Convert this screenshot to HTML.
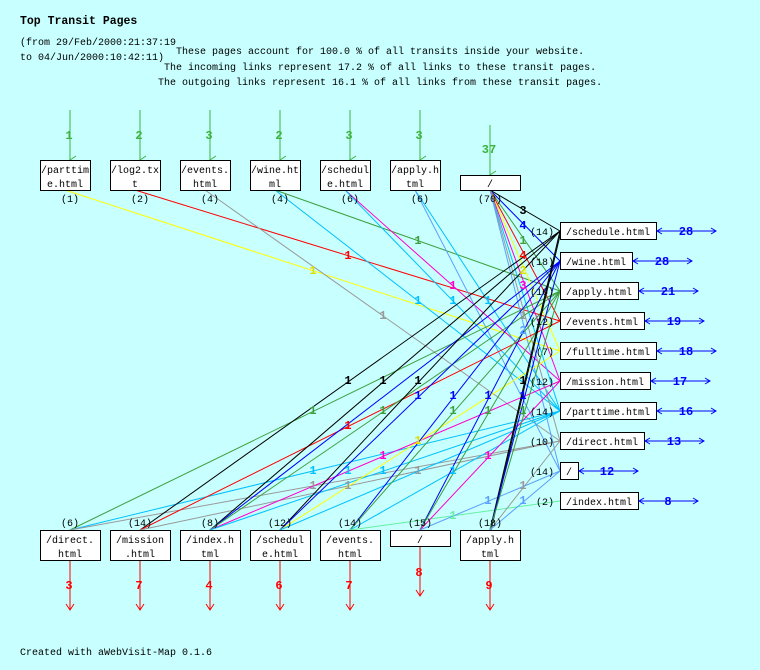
<!DOCTYPE html>
<html><head><meta charset="utf-8"><style>
html,body{margin:0;padding:0;background:#c8ffff;}
svg{display:block;font-family:"Liberation Mono",monospace;}
.t{font-size:10px;fill:#000}
.l{font-size:12px;font-weight:bold}
</style></head><body>
<svg width="760" height="670" viewBox="0 0 760 670" xmlns="http://www.w3.org/2000/svg">
<defs>
<marker id="ag" markerWidth="10" markerHeight="8" refX="5" refY="7" orient="auto" markerUnits="userSpaceOnUse"><path d="M1,1 L5,7 L9,1" fill="none" stroke="#3cb43c"/></marker>
</defs>
<rect width="760" height="670" fill="#c8ffff"/>
<text x="20" y="24" style="font-size:11.5px;font-weight:bold">Top Transit Pages</text>
<text class="t" x="20" y="45">(from 29/Feb/2000:21:37:19</text>
<text class="t" x="20" y="60">to 04/Jun/2000:10:42:11)</text>
<text class="t" x="176" y="54">These pages account for 100.0 % of all transits inside your website.</text>
<text class="t" x="164" y="70">The incoming links represent 17.2 % of all links to these transit pages.</text>
<text class="t" x="158" y="85">The outgoing links represent 16.1 % of all links from these transit pages.</text>

<g stroke-width="1" fill="none">
<line x1="65" y1="190" x2="560" y2="351" stroke="#ffff00"/>
<line x1="135" y1="190" x2="560" y2="321" stroke="#ff0000"/>
<line x1="205" y1="190" x2="560" y2="441" stroke="#999"/>
<line x1="275" y1="190" x2="560" y2="291" stroke="#3ca03c"/>
<line x1="275" y1="190" x2="560" y2="411" stroke="#00c0ff"/>
<line x1="345" y1="190" x2="560" y2="381" stroke="#ff00cc"/>
<line x1="345" y1="190" x2="560" y2="411" stroke="#00c0ff"/>
<line x1="415" y1="190" x2="560" y2="411" stroke="#00c0ff"/>
<line x1="415" y1="190" x2="560" y2="471" stroke="#5aa0ff"/>
<line x1="490" y1="190" x2="560" y2="231" stroke="#000"/>
<line x1="490" y1="190" x2="560" y2="261" stroke="#0000ff"/>
<line x1="490" y1="190" x2="560" y2="291" stroke="#3ca03c"/>
<line x1="490" y1="190" x2="560" y2="321" stroke="#ff0000"/>
<line x1="490" y1="190" x2="560" y2="351" stroke="#ffff00"/>
<line x1="490" y1="190" x2="560" y2="381" stroke="#ff00cc"/>
<line x1="490" y1="190" x2="560" y2="411" stroke="#00c0ff"/>
<line x1="490" y1="190" x2="560" y2="441" stroke="#999"/>
<line x1="490" y1="190" x2="560" y2="471" stroke="#5aa0ff"/>

<line x1="70" y1="530" x2="560" y2="291" stroke="#3ca03c"/>
<line x1="70" y1="530" x2="560" y2="411" stroke="#00c0ff"/>
<line x1="70" y1="530" x2="560" y2="441" stroke="#999"/>
<line x1="140" y1="530" x2="560" y2="231" stroke="#000"/>
<line x1="140" y1="530" x2="560" y2="321" stroke="#ff0000"/>
<line x1="140" y1="530" x2="560" y2="441" stroke="#999"/>
<line x1="210" y1="530" x2="560" y2="231" stroke="#000"/>
<line x1="210" y1="530" x2="560" y2="261" stroke="#0000ff"/>
<line x1="210" y1="530" x2="560" y2="291" stroke="#3ca03c"/>
<line x1="210" y1="530" x2="560" y2="381" stroke="#ff00cc"/>
<line x1="210" y1="530" x2="560" y2="411" stroke="#00c0ff"/>
<line x1="280" y1="530" x2="560" y2="231" stroke="#000"/>
<line x1="280" y1="530" x2="560" y2="261" stroke="#0000ff"/>
<line x1="280" y1="530" x2="560" y2="351" stroke="#ffff00"/>
<line x1="280" y1="530" x2="560" y2="411" stroke="#00c0ff"/>
<line x1="350" y1="530" x2="560" y2="261" stroke="#0000ff"/>
<line x1="350" y1="530" x2="560" y2="291" stroke="#3ca03c"/>
<line x1="350" y1="530" x2="560" y2="411" stroke="#00c0ff"/>
<line x1="350" y1="530" x2="560" y2="501" stroke="#64f0a0"/>
<line x1="420" y1="530" x2="560" y2="261" stroke="#0000ff"/>
<line x1="420" y1="530" x2="560" y2="291" stroke="#3ca03c"/>
<line x1="420" y1="530" x2="560" y2="381" stroke="#ff00cc"/>
<line x1="420" y1="530" x2="560" y2="471" stroke="#5aa0ff"/>
<line x1="490" y1="530" x2="560" y2="231" stroke="#000"/>
<line x1="491" y1="530" x2="561" y2="231" stroke="#000"/>
<line x1="490" y1="530" x2="560" y2="261" stroke="#0000ff"/>
<line x1="490" y1="530" x2="560" y2="291" stroke="#3ca03c"/>
<line x1="490" y1="530" x2="560" y2="441" stroke="#999"/>
<line x1="490" y1="530" x2="560" y2="471" stroke="#5aa0ff"/>
</g>

<g class="l" text-anchor="middle">
<text x="313" y="274" fill="#dddd00">1</text>
<text x="348" y="259" fill="#ff0000">1</text>
<text x="383" y="319" fill="#999">1</text>
<text x="418" y="244" fill="#3ca03c">1</text>
<text x="418" y="304" fill="#00c0ff">1</text>
<text x="453" y="289" fill="#ff00cc">1</text>
<text x="453" y="304" fill="#00c0ff">1</text>
<text x="488" y="304" fill="#00c0ff">1</text>
<text x="523" y="214" fill="#000">3</text>
<text x="523" y="229" fill="#0000ff">4</text>
<text x="523" y="244" fill="#3ca03c">1</text>
<text x="523" y="259" fill="#ff0000">4</text>
<text x="523" y="274" fill="#dddd00">2</text>
<text x="523" y="289" fill="#ff00cc">3</text>
<text x="523" y="319" fill="#999">1</text>
<text x="523" y="334" fill="#5aa0ff">2</text>
<text x="313" y="414" fill="#3ca03c">1</text>
<text x="313" y="474" fill="#00c0ff">1</text>
<text x="313" y="489" fill="#999">1</text>
<text x="348" y="384" fill="#000">1</text>
<text x="348" y="429" fill="#ff0000">1</text>
<text x="348" y="474" fill="#00c0ff">1</text>
<text x="348" y="489" fill="#999">1</text>
<text x="383" y="384" fill="#000">1</text>
<text x="383" y="414" fill="#3ca03c">1</text>
<text x="383" y="459" fill="#ff00cc">1</text>
<text x="383" y="474" fill="#00c0ff">1</text>
<text x="418" y="384" fill="#000">1</text>
<text x="418" y="399" fill="#0000ff">1</text>
<text x="418" y="444" fill="#dddd00">1</text>
<text x="418" y="474" fill="#999">1</text>
<text x="453" y="399" fill="#0000ff">1</text>
<text x="453" y="414" fill="#3ca03c">1</text>
<text x="453" y="474" fill="#00c0ff">1</text>
<text x="453" y="519" fill="#64f0a0">1</text>
<text x="488" y="399" fill="#0000ff">1</text>
<text x="488" y="414" fill="#3ca03c">1</text>
<text x="488" y="459" fill="#ff00cc">1</text>
<text x="488" y="504" fill="#5aa0ff">1</text>
<text x="523" y="384" fill="#000">1</text>
<text x="523" y="399" fill="#0000ff">1</text>
<text x="523" y="414" fill="#3ca03c">1</text>
<text x="523" y="489" fill="#999">1</text>
<text x="523" y="504" fill="#5aa0ff">1</text>
</g>

<g stroke="#3cb43c" fill="none">
<line x1="70" y1="110" x2="70" y2="160" marker-end="url(#ag)"/>
<line x1="140" y1="110" x2="140" y2="160" marker-end="url(#ag)"/>
<line x1="210" y1="110" x2="210" y2="160" marker-end="url(#ag)"/>
<line x1="280" y1="110" x2="280" y2="160" marker-end="url(#ag)"/>
<line x1="350" y1="110" x2="350" y2="160" marker-end="url(#ag)"/>
<line x1="420" y1="110" x2="420" y2="160" marker-end="url(#ag)"/>
<line x1="490" y1="125" x2="490" y2="175" marker-end="url(#ag)"/>
</g>
<g class="l" fill="#3cb43c" text-anchor="middle">
<text x="69" y="139">1</text><text x="139" y="139">2</text><text x="209" y="139">3</text>
<text x="279" y="139">2</text><text x="349" y="139">3</text><text x="419" y="139">3</text>
<text x="489" y="153">37</text>
</g>

<g fill="#fff" stroke="#000">
<rect x="40.5" y="160.5" width="50" height="30"/>
<rect x="110.5" y="160.5" width="50" height="30"/>
<rect x="180.5" y="160.5" width="50" height="30"/>
<rect x="250.5" y="160.5" width="50" height="30"/>
<rect x="320.5" y="160.5" width="50" height="30"/>
<rect x="390.5" y="160.5" width="50" height="30"/>
<rect x="460.5" y="175.5" width="60" height="15"/>
</g>
<g class="t" text-anchor="middle">
<text x="65" y="173">/parttim</text><text x="65" y="187">e.html</text>
<text x="135" y="173">/log2.tx</text><text x="135" y="187">t</text>
<text x="205" y="173">/events.</text><text x="205" y="187">html</text>
<text x="275" y="173">/wine.ht</text><text x="275" y="187">ml</text>
<text x="345" y="173">/schedul</text><text x="345" y="187">e.html</text>
<text x="415" y="173">/apply.h</text><text x="415" y="187">tml</text>
<text x="490" y="187">/</text>
<text x="70" y="202">(1)</text><text x="140" y="202">(2)</text><text x="210" y="202">(4)</text>
<text x="280" y="202">(4)</text><text x="350" y="202">(6)</text><text x="420" y="202">(6)</text>
<text x="490" y="202">(70)</text>
</g>

<g fill="#fff" stroke="#000">
<rect x="560.5" y="222.5" width="96" height="17"/>
<rect x="560.5" y="252.5" width="72" height="17"/>
<rect x="560.5" y="282.5" width="78" height="17"/>
<rect x="560.5" y="312.5" width="84" height="17"/>
<rect x="560.5" y="342.5" width="96" height="17"/>
<rect x="560.5" y="372.5" width="90" height="17"/>
<rect x="560.5" y="402.5" width="96" height="17"/>
<rect x="560.5" y="432.5" width="84" height="17"/>
<rect x="560.5" y="462.5" width="18" height="17"/>
<rect x="560.5" y="492.5" width="78" height="17"/>
</g>
<g class="t">
<text x="566" y="235">/schedule.html</text>
<text x="566" y="265">/wine.html</text>
<text x="566" y="295">/apply.html</text>
<text x="566" y="325">/events.html</text>
<text x="566" y="355">/fulltime.html</text>
<text x="566" y="385">/mission.html</text>
<text x="566" y="415">/parttime.html</text>
<text x="566" y="445">/direct.html</text>
<text x="566" y="475">/</text>
<text x="566" y="505">/index.html</text>
</g>
<g class="t" text-anchor="end">
<text x="554" y="235">(14)</text><text x="554" y="265">(18)</text><text x="554" y="295">(16)</text>
<text x="554" y="325">(12)</text><text x="554" y="355">(7)</text><text x="554" y="385">(12)</text>
<text x="554" y="415">(14)</text><text x="554" y="445">(10)</text><text x="554" y="475">(14)</text>
<text x="554" y="505">(2)</text>
</g>
<g stroke="#0000ff" fill="none">
<path d="M657,231 H716 M662,228 L657,231 L662,234 M711,228 L716,231 L711,234"/>
<path d="M633,261 H692 M638,258 L633,261 L638,264 M687,258 L692,261 L687,264"/>
<path d="M639,291 H698 M644,288 L639,291 L644,294 M693,288 L698,291 L693,294"/>
<path d="M645,321 H704 M650,318 L645,321 L650,324 M699,318 L704,321 L699,324"/>
<path d="M657,351 H716 M662,348 L657,351 L662,354 M711,348 L716,351 L711,354"/>
<path d="M651,381 H710 M656,378 L651,381 L656,384 M705,378 L710,381 L705,384"/>
<path d="M657,411 H716 M662,408 L657,411 L662,414 M711,408 L716,411 L711,414"/>
<path d="M645,441 H704 M650,438 L645,441 L650,444 M699,438 L704,441 L699,444"/>
<path d="M579,471 H638 M584,468 L579,471 L584,474 M633,468 L638,471 L633,474"/>
<path d="M639,501 H698 M644,498 L639,501 L644,504 M693,498 L698,501 L693,504"/>
</g>
<g class="l" fill="#0000ff" text-anchor="middle">
<text x="686" y="235">28</text><text x="662" y="265">28</text><text x="668" y="295">21</text>
<text x="674" y="325">19</text><text x="686" y="355">18</text><text x="680" y="385">17</text>
<text x="686" y="415">16</text><text x="674" y="445">13</text><text x="607" y="475">12</text>
<text x="668" y="505">8</text>
</g>

<g fill="#fff" stroke="#000">
<rect x="40.5" y="530.5" width="60" height="30"/>
<rect x="110.5" y="530.5" width="60" height="30"/>
<rect x="180.5" y="530.5" width="60" height="30"/>
<rect x="250.5" y="530.5" width="60" height="30"/>
<rect x="320.5" y="530.5" width="60" height="30"/>
<rect x="390.5" y="530.5" width="60" height="16"/>
<rect x="460.5" y="530.5" width="60" height="30"/>
</g>
<g class="t" text-anchor="middle">
<text x="70" y="543">/direct.</text><text x="70" y="557">html</text>
<text x="140" y="543">/mission</text><text x="140" y="557">.html</text>
<text x="210" y="543">/index.h</text><text x="210" y="557">tml</text>
<text x="280" y="543">/schedul</text><text x="280" y="557">e.html</text>
<text x="350" y="543">/events.</text><text x="350" y="557">html</text>
<text x="420" y="543">/</text>
<text x="490" y="543">/apply.h</text><text x="490" y="557">tml</text>
<text x="70" y="526">(6)</text><text x="140" y="526">(14)</text><text x="210" y="526">(8)</text>
<text x="280" y="526">(12)</text><text x="350" y="526">(14)</text><text x="420" y="526">(15)</text>
<text x="490" y="526">(18)</text>
</g>
<g stroke="#ff0000" fill="none">
<path d="M70,561 V610 M66,604 L70,610 L74,604"/>
<path d="M140,561 V610 M136,604 L140,610 L144,604"/>
<path d="M210,561 V610 M206,604 L210,610 L214,604"/>
<path d="M280,561 V610 M276,604 L280,610 L284,604"/>
<path d="M350,561 V610 M346,604 L350,610 L354,604"/>
<path d="M420,547 V596 M416,590 L420,596 L424,590"/>
<path d="M490,561 V610 M486,604 L490,610 L494,604"/>
</g>
<g class="l" fill="#ff0000" text-anchor="middle">
<text x="69" y="589">3</text><text x="139" y="589">7</text><text x="209" y="589">4</text>
<text x="279" y="589">6</text><text x="349" y="589">7</text><text x="419" y="576">8</text>
<text x="489" y="589">9</text>
</g>

<text class="t" x="20" y="655">Created with aWebVisit-Map 0.1.6</text>
</svg>
</body></html>
